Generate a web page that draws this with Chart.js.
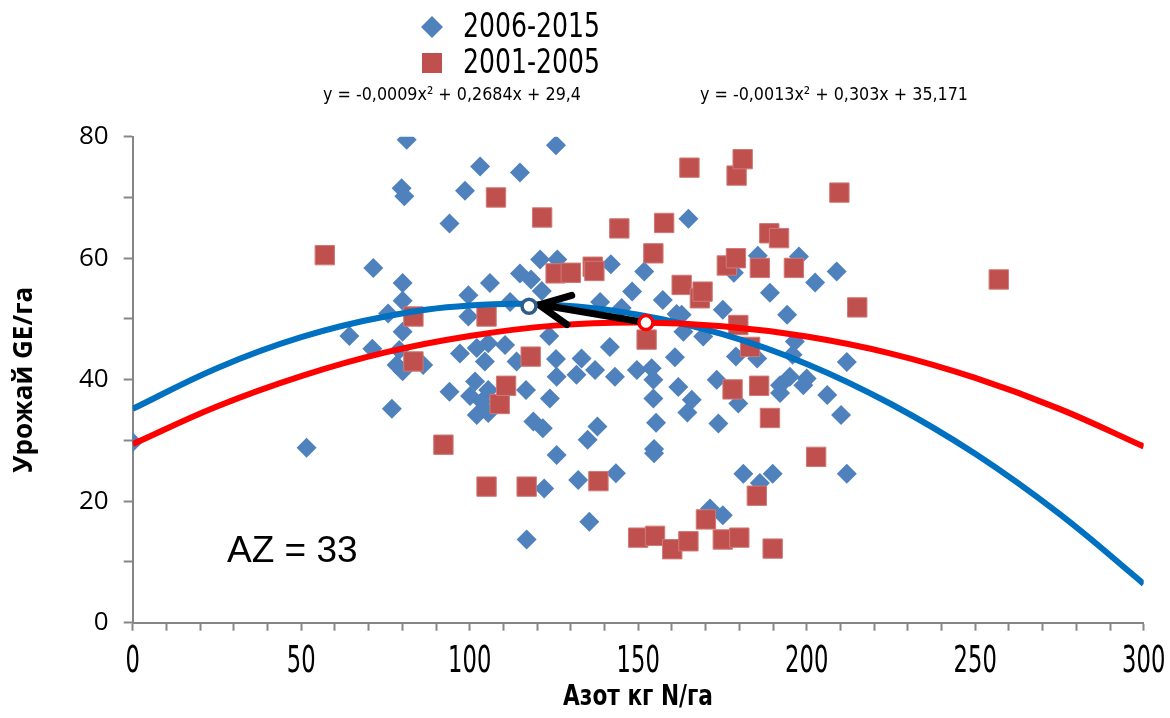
<!DOCTYPE html>
<html lang="ru">
<head>
<meta charset="UTF-8">
<title>Урожай и азот</title>
<script src="https://cdn.jsdelivr.net/npm/chart.js"></script>
<style>
  html, body { margin: 0; padding: 0; background: #fff; }
</style>
</head>
<body>
<canvas id="myChart" width="1170" height="718"></canvas>
<script>
// 2006-2015: азот (кг N/га) и урожай (GE/га)
const blueN = [0, 51.6, 64.3, 71.1, 71.4, 75.8, 76.9, 79.1, 78.3, 80.1,
  80.1, 80.1, 80.1, 79.8, 80.6, 81.3, 86.2, 94.0, 94.0, 97.1,
  98.6, 99.6, 99.6, 100.1, 101.6, 102.1, 102.1, 103.1, 103.6, 104.5,
  105.5, 105.5, 105.5, 106.0, 110.5, 112.0, 113.9, 114.9, 114.9, 116.7,
  116.9, 118.2, 118.9, 120.9, 121.4, 121.7, 122.1, 123.6, 123.8, 125.6,
  125.6, 125.8, 125.8, 126.0, 131.7, 132.2, 133.2, 135.0, 135.5, 137.2,
  137.9, 138.7, 141.6, 141.9, 143.1, 143.4, 145.1, 148.2, 149.6, 151.8,
  154.0, 154.5, 154.5, 154.7, 154.7, 155.3, 157.3, 160.9, 161.4, 161.9,
  162.9, 163.4, 164.6, 164.9, 165.9, 169.3, 171.3, 173.3, 173.8, 175.1,
  175.1, 178.4, 179.0, 179.7, 181.2, 185.3, 185.5, 186.1, 189.1, 189.9,
  192.1, 192.1, 194.2, 195.0, 195.8, 196.5, 197.7, 199.0, 200.0, 202.5,
  206.1, 208.9, 210.2, 211.9, 211.9];
const blueYield = [29.7, 28.8, 47.2, 45.1, 58.4, 50.9, 35.2, 44.9, 42.4, 41.4,
  47.9, 53.0, 55.9, 71.5, 70.2, 79.5, 42.4, 65.7, 38.0, 44.3,
  71.1, 53.9, 50.4, 37.3, 39.7, 45.2, 34.2, 75.1, 36.4, 43.0,
  46.0, 38.3, 34.5, 55.9, 45.7, 52.8, 43.0, 74.1, 57.5, 38.3,
  13.7, 56.5, 33.1, 59.8, 54.6, 32.0, 22.1, 47.2, 36.9, 78.6,
  43.4, 40.5, 27.6, 59.8, 40.8, 23.5, 43.5, 30.1, 16.6, 41.6,
  32.3, 52.8, 45.4, 59.0, 40.5, 24.6, 51.8, 54.5, 41.6, 57.8,
  41.9, 40.0, 36.9, 28.6, 27.9, 32.9, 53.1, 43.7, 50.8, 38.8,
  50.7, 47.9, 34.6, 66.5, 36.7, 47.1, 18.8, 40.0, 32.8, 51.5,
  17.7, 57.6, 43.8, 36.1, 24.5, 43.5, 60.4, 23.0, 54.3, 24.5,
  37.8, 39.1, 50.7, 40.5, 44.1, 46.3, 60.3, 39.1, 40.2, 56.0,
  37.5, 57.8, 34.2, 42.9, 24.5];

// 2001-2005
const redN = [57.0, 83.3, 83.3, 92.2, 105.0, 105.0, 107.8, 108.9, 110.8, 116.9,
  118.1, 121.5, 125.5, 130.0, 136.5, 137.0, 138.2, 144.4, 150.0, 152.5,
  154.5, 155.0, 157.7, 160.1, 162.9, 164.9, 165.2, 168.3, 169.1, 170.1,
  175.1, 176.3, 178.0, 179.0, 179.2, 179.7, 180.0, 181.0, 183.2, 185.2,
  185.9, 186.1, 188.9, 189.1, 189.9, 191.8, 196.2, 202.8, 209.7, 215.0,
  257.0];
const redYield = [60.5, 50.4, 43.0, 29.3, 50.4, 22.4, 70.0, 36.0, 39.0, 22.4,
  43.8, 66.7, 57.5, 57.6, 58.6, 57.9, 23.3, 64.9, 14.0, 46.6,
  60.8, 14.3, 65.8, 12.1, 55.6, 13.4, 74.9, 53.4, 54.5, 17.0,
  13.7, 58.8, 38.4, 60.0, 73.6, 49.0, 14.0, 76.3, 45.4, 20.9,
  39.0, 58.4, 64.1, 33.7, 12.2, 63.3, 58.4, 27.3, 70.8, 51.9,
  56.5];

// линии тренда
const trendX = [0, 25, 50, 75, 100, 125, 150, 175, 200, 225, 250, 275, 300];
const trendBlue = [35.2, 41.9, 47.0, 50.4, 52.2, 52.3, 50.7, 47.5, 42.6, 36.0, 27.8, 17.9, 6.4];
const trendRed = [29.4, 35.6, 40.6, 44.5, 47.2, 48.9, 49.4, 48.8, 47.1, 44.3, 40.3, 35.2, 29.0];

// оптимумы и стрелка между ними
const optBlue = [117.6, 52.1];
const optRed = [152.3, 49.4];
const arrowTip = [120.6, 52.3];

const xTickLabels = [0, 50, 100, 150, 200, 250, 300];
const legendLabels = ['2006-2015', '2001-2005'];
const xTitle = 'Азот кг N/га';
const eqRed = 'y = -0,0009x² + 0,2684x + 29,4';
const eqBlue = 'y = -0,0013x² + 0,303x + 35,171';
const azText = 'AZ = 33';

const BLUE = '#4F81BD';
const RED = '#C0504D';
const COND = '"DejaVu Sans Condensed", "DejaVu Sans", sans-serif';

function pts(xs, ys) {
  return xs.map((x, i) => ({ x: x, y: ys[i] }));
}

// текст, сжатый по горизонтали (как в исходной картинке)
function squashText(ctx, text, x, y, font, scaleX, align) {
  ctx.save();
  ctx.font = font;
  ctx.textAlign = align;
  ctx.textBaseline = 'middle';
  ctx.translate(x, y);
  ctx.scale(scaleX, 1);
  ctx.fillText(text, 0, 0);
  ctx.restore();
}

function fitText(ctx, text, x, y, font, width, align) {
  ctx.font = font;
  const w = ctx.measureText(text).width;
  squashText(ctx, text, x, y, font, width / w, align || 'left');
}

// стрелка поверх линий тренда, но под точками оптимума
const arrowPlugin = {
  id: 'arrowPlugin',
  afterDatasetDraw(chart, args) {
    if (chart.data.datasets[args.index].label !== 'trend 2001-2005') return;
    const sx = chart.scales.x, sy = chart.scales.y;
    const x0 = sx.getPixelForValue(optRed[0]), y0 = sy.getPixelForValue(optRed[1]);
    const x1 = sx.getPixelForValue(arrowTip[0]), y1 = sy.getPixelForValue(arrowTip[1]);
    const ctx = chart.ctx;
    const ang = Math.atan2(y0 - y1, x0 - x1);
    const len = 34, spread = 0.45;
    ctx.save();
    ctx.strokeStyle = '#000';
    ctx.lineWidth = 7;
    ctx.lineCap = 'round';
    ctx.lineJoin = 'round';
    ctx.beginPath();
    ctx.moveTo(x0, y0);
    ctx.lineTo(x1 + 3, y1);
    ctx.moveTo(x1 + Math.cos(ang - spread) * len, y1 + Math.sin(ang - spread) * len);
    ctx.lineTo(x1, y1);
    ctx.lineTo(x1 + Math.cos(ang + spread) * len, y1 + Math.sin(ang + spread) * len);
    ctx.stroke();
    ctx.restore();
  }
};

// подписи оси X, легенда, уравнения и AZ
const textPlugin = {
  id: 'textPlugin',
  afterDraw(chart) {
    const ctx = chart.ctx;
    const sx = chart.scales.x;
    ctx.save();
    ctx.fillStyle = '#000';
    xTickLabels.forEach((v) => {
      squashText(ctx, String(v), sx.getPixelForValue(v), 662, '37px ' + COND, 0.68, 'center');
    });
    fitText(ctx, xTitle, 638, 697, 'bold 29px ' + COND, 150, 'center');
    // легенда
    ctx.fillStyle = BLUE;
    ctx.beginPath();
    ctx.moveTo(421, 27); ctx.lineTo(432, 16); ctx.lineTo(443, 27); ctx.lineTo(432, 38);
    ctx.closePath();
    ctx.fill();
    ctx.fillStyle = RED;
    ctx.fillRect(422, 53, 20, 20);
    ctx.fillStyle = '#000';
    fitText(ctx, legendLabels[0], 463, 28, '34px ' + COND, 137);
    fitText(ctx, legendLabels[1], 463, 64, '34px ' + COND, 137);
    // уравнения трендов
    fitText(ctx, eqRed, 323, 95, '18px ' + COND, 258);
    fitText(ctx, eqBlue, 700, 95, '18px ' + COND, 268);
    // AZ
    ctx.textBaseline = 'alphabetic';
    ctx.font = '37px "Liberation Sans", Arial, sans-serif';
    ctx.fillText(azText, 227, 562);
    ctx.restore();
  }
};

const myChart = new Chart(document.getElementById('myChart'), {
  type: 'scatter',
  data: {
    datasets: [
      { label: 'opt 2006-2015', data: [{ x: optBlue[0], y: optBlue[1] }],
        pointStyle: 'circle', pointRadius: 7, backgroundColor: '#fff',
        borderColor: '#2F5C8A', borderWidth: 3.5, order: 0 },
      { label: 'opt 2001-2005', data: [{ x: optRed[0], y: optRed[1] }],
        pointStyle: 'circle', pointRadius: 7, backgroundColor: '#fff',
        borderColor: '#FF0000', borderWidth: 3.5, order: 0 },
      { label: 'trend 2001-2005', type: 'line', data: pts(trendX, trendRed),
        borderColor: '#FF0000', borderWidth: 6, pointRadius: 0, tension: 0.4,
        fill: false, order: 1 },
      { label: 'trend 2006-2015', type: 'line', data: pts(trendX, trendBlue),
        borderColor: '#0070C0', borderWidth: 6, pointRadius: 0, tension: 0.4,
        fill: false, order: 2 },
      { label: legendLabels[1], data: pts(redN, redYield),
        pointStyle: 'rect', pointRadius: 13.7, backgroundColor: RED,
        borderColor: '#D07A77', borderWidth: 1, order: 3 },
      { label: legendLabels[0], data: pts(blueN, blueYield),
        pointStyle: 'rectRot', pointRadius: 10, backgroundColor: BLUE,
        borderWidth: 0, order: 4 }
    ]
  },
  options: {
    responsive: false,
    animation: false,
    events: [],
    layout: { padding: { top: 136.7, right: 26.3, left: 0, bottom: 0 } },
    plugins: {
      legend: { display: false },
      tooltip: { enabled: false }
    },
    scales: {
      x: {
        type: 'linear', min: 0, max: 300,
        afterFit: (axis) => { axis.height = 95.3; axis.paddingLeft = 0; axis.paddingRight = 0; },
        ticks: { display: false, stepSize: 10, autoSkip: false },
        grid: { drawOnChartArea: false, tickLength: 8, tickColor: '#868686', tickWidth: 2 },
        border: { color: '#868686', width: 2 }
      },
      y: {
        type: 'linear', min: 0, max: 80,
        afterFit: (axis) => { axis.width = 132.7; },
        ticks: {
          stepSize: 10, autoSkip: false, color: '#000', padding: 15,
          font: { family: '"Open Sans", sans-serif', size: 26 },
          callback: (v) => (v % 20 === 0 ? v : '')
        },
        grid: { drawOnChartArea: false, tickLength: 9, tickColor: '#868686', tickWidth: 2 },
        border: { color: '#868686', width: 2 },
        title: {
          display: true, text: 'Урожай GE/га', color: '#000',
          font: { family: '"Open Sans", sans-serif', size: 26, weight: 'bold' },
          padding: { top: 9, bottom: 0 }
        }
      }
    }
  },
  plugins: [arrowPlugin, textPlugin]
});
</script>
</body>
</html>
